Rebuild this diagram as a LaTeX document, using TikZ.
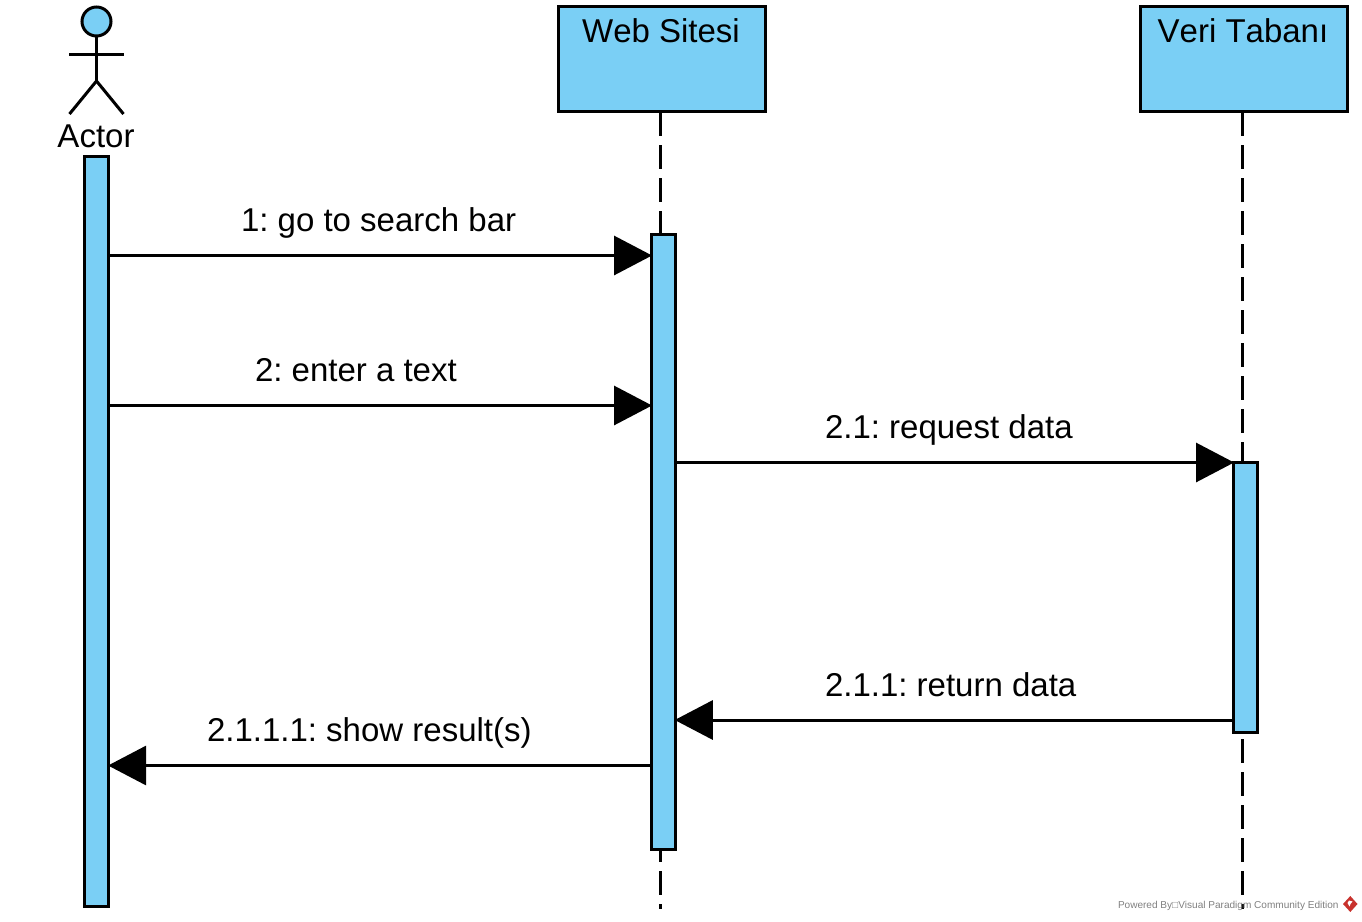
\documentclass[tikz,border=0pt]{standalone}
\usepackage{fontspec}
\setmainfont[Kerning=Off]{Liberation Sans}
\frenchspacing
\usetikzlibrary{arrows.meta}
\definecolor{fillblue}{RGB}{122,207,245}
\definecolor{wmgray}{RGB}{128,128,128}
\definecolor{wmred}{RGB}{200,50,45}
\tikzset{
  x=1pt,y=-1pt,
  every node/.style={outer sep=0pt,inner sep=0pt},
  lifebox/.style={draw=black,line width=3.2pt,fill=fillblue,minimum width=207pt,minimum height=105pt},
  lifetitle/.style={font=\fontsize{33}{33}\selectfont,anchor=base},
  actbar/.style={draw=black,line width=3.2pt,fill=fillblue,minimum width=23.7pt},
  lifeline/.style={draw=black,line width=3pt,dash pattern=on 23.5pt off 9.5pt},
  msg/.style={draw=black,line width=3pt,-{Triangle[length=38pt,width=39pt,fill=black]},shorten >=-0.5pt},
  msglabel/.style={font=\fontsize{33}{33}\selectfont,anchor=base west},
  limb/.style={draw=black,line width=3pt},
}
\begin{document}
\begin{tikzpicture}
\useasboundingbox (0,0) rectangle (1362,921);
% lifeline heads
\node[lifebox] (web) at (661.8,59) {};
\node[lifebox] (db) at (1243.8,59) {};
\node[lifetitle] (webt) at (661,42) {Web Sitesi};
\node[lifetitle] (dbt) at (1243,42) {Veri Tabanı};
% lifeline ends
\coordinate (webend) at (660.5,909);
\coordinate (dbend) at (1242.5,909);
\coordinate (webtop) at (660.5,112);
\coordinate (dbtop) at (1242.5,112);
\draw[lifeline] (webtop) -- (webend);
\draw[lifeline] (dbtop) -- (dbend);
% actor
\node[circle,draw=black,line width=3pt,fill=fillblue,minimum size=29pt] (head) at (96.5,21.5) {};
\coordinate (hip) at (96.5,81);
\coordinate (armL) at (69,54);
\coordinate (armR) at (124,54);
\coordinate (legL) at (69.5,114);
\coordinate (legR) at (123.5,114);
\draw[limb] (head.south) -- (hip);
\draw[limb] (armL) -- (armR);
\draw[limb] (legL) -- (hip) -- (legR);
\node[lifetitle] (actor) at (96,147) {Actor};
% activation bars
\node[actbar,minimum height=750pt] (aact) at (96.7,531.7) {};
\node[actbar,minimum height=615pt] (wact) at (663.4,542) {};
\node[actbar,minimum height=270pt] (dact) at (1245.4,597.6) {};
% messages
\coordinate (m1) at (0,255.5);
\coordinate (m2) at (0,405.5);
\coordinate (m3) at (0,462.5);
\coordinate (m4) at (0,720);
\coordinate (m5) at (0,765.5);
\draw[msg] (aact.east |- m1) -- (wact.west |- m1);
\draw[msg] (aact.east |- m2) -- (wact.west |- m2);
\draw[msg] (wact.east |- m3) -- (dact.west |- m3);
\draw[msg] (dact.west |- m4) -- (wact.east |- m4);
\draw[msg] (wact.west |- m5) -- (aact.east |- m5);
\node[msglabel] (l1) at (241,231) {1: go to search bar};
\node[msglabel] (l2) at (255,381) {2: enter a text};
\node[msglabel] (l3) at (825,438) {2.1: request data};
\node[msglabel] (l4) at (825,696) {2.1.1: return data};
\node[msglabel] (l5) at (207,741) {2.1.1.1: show result(s)};
% watermark
\node[font=\fontsize{10.05}{10.05}\selectfont,text=wmgray,anchor=base west] (wm) at (1118,908) {Powered By□Visual Paradigm Community Edition};
\fill[wmred] (1350.3,896) -- (1357.5,904) -- (1350.3,912) -- (1343,904) -- cycle;
\fill[white] (1349,900.5) -- (1352.5,901.5) -- (1350.5,904) -- (1349.5,906.5) -- (1347.5,903) -- cycle;
\end{tikzpicture}
\end{document}
